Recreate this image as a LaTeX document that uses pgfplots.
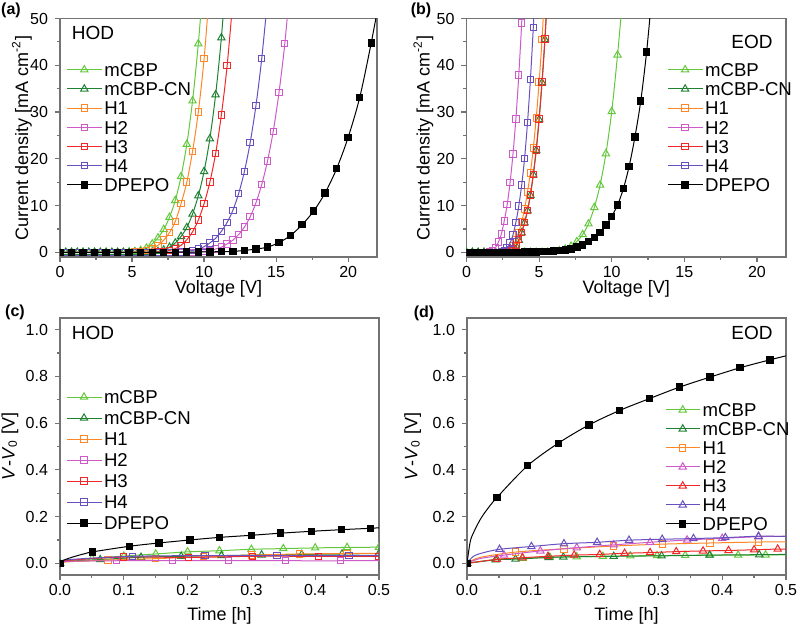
\documentclass[border=0pt]{standalone}
\usepackage{fontspec}
\setmainfont{Liberation Sans}
\usepackage{pgfplots}
\pgfplotsset{compat=1.18}
\definecolor{cA}{RGB}{100,200,60}
\definecolor{cB}{RGB}{30,130,50}
\definecolor{cC}{RGB}{255,135,40}
\definecolor{cD}{RGB}{205,90,200}
\definecolor{cE}{RGB}{240,40,40}
\definecolor{cF}{RGB}{105,80,190}
\pgfplotsset{
 base/.style={scale only axis, axis line style={black!55, line width=0.6pt},
  tick style={black!55, line width=0.6pt}, tick align=outside, tick pos=left,
  major tick length=2.5pt, minor tick length=1.5pt, minor tick num=1,
  clip marker paths=true,
  tick label style={font=\fontsize{8}{9.6}\selectfont},
  xticklabel shift=-1.5pt,
  label style={font=\fontsize{9}{10.8}\selectfont},
  /pgf/number format/assume math mode=true,
  legend cell align=left,
  legend image code/.code={\draw[##1, mark indices={2}] plot coordinates {(0cm,0cm)(0.3cm,0cm)(0.6cm,0cm)};},
  legend style={draw=none, fill=none, font=\fontsize{9.3}{11}\selectfont, anchor=north west, inner sep=0pt,
    nodes={inner ysep=0pt, inner xsep=1.2pt, text height=6.7pt, text depth=0pt}, row sep=2.9pt},
  every axis plot/.append style={line width=0.5pt},
 },
 sA/.style={color=cA, mark=triangle, mark size=2.1pt, mark options={solid}, smooth},
 sB/.style={color=cB, mark=triangle, mark size=2.1pt, mark options={solid}, smooth},
 sC/.style={color=cC, mark=square, mark size=1.6pt, mark options={solid}, smooth},
 sD/.style={color=cD, mark=square, mark size=1.6pt, mark options={solid}, smooth},
 sE/.style={color=cE, mark=square, mark size=1.6pt, mark options={solid}, smooth},
 sF/.style={color=cF, mark=square, mark size=1.6pt, mark options={solid}, smooth},
 sG/.style={color=black, mark=square*, mark size=1.6pt, mark options={solid}, smooth},
 sAt/.style={sA, mark=triangle},
 sDt/.style={sD, mark=triangle, mark size=2.1pt},
 sEt/.style={sE, mark=triangle, mark size=2.1pt},
 sFt/.style={sF, mark=triangle, mark size=2.1pt},
 jv/.style={base, width=158.5pt, height=119.25pt, xmin=0, xmax=22, ymin=-1, ymax=50,
  xtick={0,5,...,20}, ytick={0,10,...,50}, xlabel={Voltage [V]}, ylabel={Current density [mA cm\textsuperscript{-2}]},
  xlabel style={at={(axis description cs:0.5,-0.133)}, anchor=center}},
 vt/.style={base, width=159.5pt, height=128.5pt, xmin=0, xmax=0.5, ymin=-0.05, ymax=1.05,
  xtick={0,0.1,...,0.5}, ytick={0,0.2,...,1.0}, xlabel={Time [h]}, ylabel={\textit{V}-\textit{V}\textsubscript{0} [V]},
  xlabel style={at={(axis description cs:0.5,-0.16)}, anchor=center},
  xticklabel style={/pgf/number format/.cd, fixed, fixed zerofill, precision=1},
  yticklabel style={/pgf/number format/.cd, fixed, fixed zerofill, precision=1}},
}
\begin{document}
\begin{tikzpicture}
\path[use as bounding box] (0,0) rectangle (400pt,313.5pt);
% ---------------- (a) ----------------
\begin{axis}[jv, at={(30pt,185pt)}, anchor=south west,
 ylabel style={at={(axis description cs:-0.12,0.5)}, anchor=center},
 legend style={at={(rel axis cs:0.02,0.815)}}]
\addplot[sA] coordinates {(0,0)(0.4,0)(0.8,0)(1.2,0)(1.6,0)(2.0,0)(2.4,0)(2.8,0)(3.2,0)(3.6,0)(4.0,0)(4.4,0)(4.8,0.05)(5.2,0.15)(5.6,0.4)(6.0,0.9)(6.4,1.8)(6.8,3.1)(7.2,4.9)(7.6,7.5)(8.0,11.1)(8.4,16.2)(8.8,23.1)(9.2,32.4)(9.6,44.6)(10.0,60)};
\addplot[sB] coordinates {(0,0)(0.4,0)(0.8,0)(1.2,0)(1.6,0)(2.0,0)(2.4,0)(2.8,0)(3.2,0)(3.6,0)(4.0,0)(4.4,0)(4.8,0)(5.2,0)(5.6,0)(6.0,0)(6.4,0.1)(6.8,0.2)(7.2,0.5)(7.6,1.1)(8.0,2.0)(8.4,3.4)(8.8,5.3)(9.2,8.2)(9.6,12.1)(10.0,17.3)(10.4,24.3)(10.8,33.7)(11.2,45.9)(11.6,62)};
\addplot[sC] coordinates {(0,0)(0.4,0)(0.8,0)(1.2,0)(1.6,0)(2.0,0)(2.4,0)(2.8,0)(3.2,0)(3.6,0)(4.0,0)(4.4,0)(4.8,0)(5.2,0.1)(5.6,0.2)(6.0,0.4)(6.4,0.8)(6.8,1.5)(7.2,2.6)(7.6,4.2)(8.0,6.6)(8.4,10.4)(8.8,15.0)(9.2,21.6)(9.6,30.0)(10.0,41.4)(10.4,57)};
\addplot[sD] coordinates {(0,0)(0.4,0)(0.8,0)(1.2,0)(1.6,0)(2.0,0)(2.4,0)(2.8,0)(3.2,0)(3.6,0)(4.0,0)(4.4,0)(4.8,0)(5.2,0)(5.6,0)(6.0,0)(6.4,0)(6.8,0)(7.2,0)(7.6,0)(8.0,0)(8.4,0)(8.8,0)(9.2,0)(9.6,0.1)(10.0,0.2)(10.4,0.4)(10.8,0.7)(11.2,1.1)(11.6,1.8)(12.0,2.6)(12.4,3.8)(12.8,5.4)(13.2,7.6)(13.6,10.6)(14.0,14.5)(14.4,19.5)(14.8,25.9)(15.2,34.2)(15.6,44.6)(16.0,58)};
\addplot[sE] coordinates {(0,0)(0.4,0)(0.8,0)(1.2,0)(1.6,0)(2.0,0)(2.4,0)(2.8,0)(3.2,0)(3.6,0)(4.0,0)(4.4,0)(4.8,0)(5.2,0)(5.6,0)(6.0,0)(6.4,0)(6.8,0.1)(7.2,0.2)(7.6,0.4)(8.0,0.8)(8.4,1.5)(8.8,2.7)(9.2,4.4)(9.6,6.9)(10.0,10.4)(10.4,15.0)(10.8,21.1)(11.2,29.4)(11.6,39.9)(12.0,54)};
\addplot[sF] coordinates {(0,0)(0.4,0)(0.8,0)(1.2,0)(1.6,0)(2.0,0)(2.4,0)(2.8,0)(3.2,0)(3.6,0)(4.0,0)(4.4,0)(4.8,0)(5.2,0)(5.6,0)(6.0,0)(6.4,0)(6.8,0)(7.2,0)(7.6,0)(8.0,0)(8.4,0.1)(8.8,0.2)(9.2,0.4)(9.6,0.7)(10.0,1.2)(10.4,2.0)(10.8,3.0)(11.2,4.5)(11.6,6.4)(12.0,9.0)(12.4,12.6)(12.8,17.3)(13.2,23.5)(13.6,31.4)(14.0,41.4)(14.4,54)};
\addplot[sG] coordinates {(0,0)(0.8,0)(1.6,0)(2.4,0)(3.2,0)(4.0,0)(4.8,0)(5.6,0)(6.4,0)(7.2,0)(8.0,0.02)(8.8,0.05)(9.6,0.07)(10.4,0.1)(11.2,0.15)(12.0,0.2)(12.8,0.4)(13.6,0.7)(14.4,1.1)(15.2,2.1)(16.0,3.6)(16.8,5.9)(17.6,8.8)(18.4,12.7)(19.2,17.9)(20.0,24.6)(20.8,33.1)(21.6,44.8)(22.4,58)};
\legend{mCBP,mCBP-CN,H1,H2,H3,H4,DPEPO}
\node[anchor=west, font=\fontsize{9.5}{11}\selectfont] at (rel axis cs:0.015,0.94) {HOD};
\end{axis}
% ---------------- (b) ----------------
\begin{axis}[jv, at={(233.25pt,185pt)}, anchor=south west, width=159.75pt,
 ylabel style={at={(axis description cs:-0.135,0.5)}, anchor=center},
 legend style={at={(rel axis cs:0.628,0.815)}}]
\addplot[sA] coordinates {(0,0)(0.4,0)(0.8,0)(1.2,0)(1.6,0)(2.0,0)(2.4,0)(2.8,0)(3.2,0)(3.6,0)(4.0,0)(4.4,0)(4.8,0)(5.2,0)(5.6,0.05)(6.0,0.15)(6.4,0.35)(6.8,0.7)(7.2,1.3)(7.6,2.3)(8.0,3.8)(8.4,6.1)(8.8,9.6)(9.2,14.4)(9.6,21.1)(10.0,30.1)(10.4,42.2)(10.8,56)};
\addplot[sB] coordinates {(0,0)(0.4,0)(0.8,0)(1.2,0)(1.6,0)(2.0,0)(2.4,0)(2.8,0.1)(3.0,0.3)(3.2,0.7)(3.4,1.4)(3.6,2.6)(3.8,4.2)(4.0,6.3)(4.2,8.9)(4.4,12.2)(4.6,16.6)(4.8,21.8)(5.0,28.4)(5.2,36.3)(5.4,45.5)(5.6,57)};
\addplot[sC] coordinates {(0,0)(0.2,0)(0.4,0)(0.6,0)(0.8,0)(1.0,0)(1.2,0)(1.4,0)(1.6,0)(1.8,0)(2.0,0)(2.2,0)(2.4,0)(2.6,0)(2.8,0.2)(3.0,0.6)(3.2,1.4)(3.4,2.6)(3.6,4.3)(3.8,6.5)(4.0,9.3)(4.2,12.9)(4.4,17.0)(4.6,22.3)(4.8,28.7)(5.0,36.4)(5.2,45.5)(5.4,57)};
\addplot[sD] coordinates {(0,0)(0.2,0)(0.4,0)(0.6,0)(0.8,0)(1.0,0)(1.2,0)(1.4,0)(1.6,0.15)(1.8,0.4)(2.0,1.0)(2.2,2.2)(2.4,3.9)(2.6,6.7)(2.8,10.2)(3.0,14.9)(3.2,21.0)(3.4,28.5)(3.6,37.9)(3.8,49.0)(4.0,62)};
\addplot[sE] coordinates {(0,0)(0.2,0)(0.4,0)(0.6,0)(0.8,0)(1.0,0)(1.2,0)(1.4,0)(1.6,0)(1.8,0)(2.0,0)(2.2,0)(2.4,0)(2.6,0)(2.8,0.1)(3.0,0.3)(3.2,0.7)(3.4,1.5)(3.6,2.7)(3.8,4.3)(4.0,6.4)(4.2,9.0)(4.4,12.3)(4.6,16.7)(4.8,21.9)(5.0,28.5)(5.2,36.4)(5.4,45.6)(5.6,57)};
\addplot[sF] coordinates {(0,0)(0.2,0)(0.4,0)(0.6,0)(0.8,0)(1.0,0)(1.2,0)(1.4,0)(1.6,0)(1.8,0)(2.0,0)(2.2,0)(2.4,0.15)(2.6,0.4)(2.8,0.9)(3.0,2.0)(3.2,3.7)(3.4,6.4)(3.6,9.9)(3.8,14.4)(4.0,20.1)(4.2,27.7)(4.4,36.9)(4.6,48.1)(4.8,61)};
\addplot[sG] coordinates {(0,0)(0.4,0)(0.8,0)(1.2,0)(1.6,0)(2.0,0)(2.4,0)(2.8,0)(3.2,0.01)(3.6,0.02)(4.0,0.03)(4.4,0.05)(4.8,0.08)(5.2,0.12)(5.6,0.18)(6.0,0.25)(6.4,0.35)(6.8,0.5)(7.2,0.75)(7.6,1.1)(8.0,1.6)(8.4,2.3)(8.8,3.2)(9.2,4.3)(9.6,5.8)(10.0,7.7)(10.4,10.1)(10.8,13.6)(11.2,18.4)(11.6,24.7)(12.0,32.4)(12.4,42.8)(12.8,56)};
\legend{mCBP,mCBP-CN,H1,H2,H3,H4,DPEPO}
\node[anchor=east, font=\fontsize{9.5}{11}\selectfont] at (rel axis cs:0.98,0.9) {EOD};
\end{axis}
% ---------------- (c) ----------------
\begin{axis}[vt, at={(30pt,26pt)}, anchor=south west,
 ylabel style={at={(axis description cs:-0.157,0.5)}, anchor=center},
 legend style={at={(rel axis cs:0.019,0.72)}, row sep=3.8pt}]
\addplot[sA, mark indices={1,3,4,5,6,7,8,9,10,11,12}] coordinates {(0,0)(0.01,0.01)(0.05,0.02)(0.1,0.031)(0.15,0.04)(0.2,0.049)(0.25,0.054)(0.3,0.06)(0.35,0.063)(0.4,0.066)(0.45,0.068)(0.5,0.069)};
\addplot[sB, mark indices={1,3,4,5,6,7,8,9,10}] coordinates {(0,0)(0.01,0.008)(0.063,0.016)(0.127,0.026)(0.19,0.03)(0.253,0.033)(0.316,0.036)(0.379,0.038)(0.442,0.04)(0.5,0.042)};
\addplot[sC, mark indices={1,3,4,5,6,7,8}] coordinates {(0,0)(0.01,0.006)(0.075,0.014)(0.15,0.02)(0.225,0.028)(0.3,0.035)(0.375,0.04)(0.45,0.042)(0.5,0.043)};
\addplot[sD, mark indices={1,3,4,5,6,7}] coordinates {(0,0)(0.01,0.008)(0.089,0.011)(0.176,0.011)(0.264,0.011)(0.353,0.011)(0.44,0.011)(0.5,0.012)};
\addplot[sE, mark indices={1,3,4,5,6,7}] coordinates {(0,0)(0.01,0.012)(0.1,0.027)(0.201,0.025)(0.302,0.03)(0.405,0.03)(0.5,0.03)};
\addplot[sF, mark indices={1,3,4,5,6}] coordinates {(0,0)(0.01,0.015)(0.114,0.03)(0.227,0.033)(0.34,0.033)(0.453,0.033)(0.5,0.033)};
\addplot[sG, mark indices={1,7,8,9,10,11,12,13,14,15,16}] coordinates {(0,0)(0.005,0.012)(0.01,0.018)(0.02,0.027)(0.03,0.035)(0.04,0.042)(0.051,0.049)(0.109,0.073)(0.155,0.087)(0.204,0.1)(0.25,0.111)(0.3,0.12)(0.346,0.129)(0.394,0.137)(0.441,0.144)(0.487,0.15)(0.5,0.152)};
\legend{mCBP,mCBP-CN,H1,H2,H3,H4,DPEPO}
\node[anchor=west, font=\fontsize{9.5}{11}\selectfont] at (rel axis cs:0.015,0.94) {HOD};
\end{axis}
% ---------------- (d) ----------------
\begin{axis}[vt, at={(233.5pt,26pt)}, anchor=south west,
 ylabel style={at={(axis description cs:-0.17,0.5)}, anchor=center},
 legend style={at={(rel axis cs:0.62,0.67)}, row sep=2.8pt}]
\addplot[sAt, mark indices={1,2,3,4,5,6,7,8,9,10,11,12}] coordinates {(0,0)(0.045,0.016)(0.087,0.022)(0.13,0.026)(0.172,0.028)(0.213,0.03)(0.256,0.032)(0.298,0.033)(0.342,0.034)(0.381,0.035)(0.425,0.035)(0.468,0.036)(0.5,0.036)};
\addplot[sB, mark indices={1,2,3,4,5,6,7,8,9}] coordinates {(0,0)(0.045,0.015)(0.076,0.018)(0.128,0.025)(0.151,0.027)(0.23,0.03)(0.305,0.032)(0.38,0.035)(0.458,0.037)(0.5,0.038)};
\addplot[sC, mark indices={1,3,4,5,6,7,8}] coordinates {(0,0)(0.02,0.025)(0.076,0.048)(0.152,0.062)(0.23,0.074)(0.306,0.082)(0.381,0.087)(0.457,0.091)(0.5,0.092)};
\addplot[sDt, mark indices={1,3,4,5,6,7,8,9,10}] coordinates {(0,0)(0.02,0.02)(0.058,0.035)(0.115,0.053)(0.172,0.067)(0.23,0.079)(0.287,0.09)(0.345,0.1)(0.4,0.107)(0.457,0.114)(0.5,0.116)};
\addplot[sEt, mark indices={1,2,3,4,5,6,7,8,9,10,11,12,13}] coordinates {(0,0)(0.047,0.017)(0.087,0.024)(0.127,0.03)(0.168,0.035)(0.208,0.038)(0.247,0.043)(0.287,0.046)(0.328,0.05)(0.37,0.053)(0.41,0.055)(0.45,0.058)(0.487,0.061)(0.5,0.061)};
\addplot[sFt, mark indices={1,4,5,6,7,8,9,10,11,12}] coordinates {(0,0)(0.01,0.03)(0.025,0.045)(0.051,0.06)(0.101,0.072)(0.152,0.084)(0.204,0.09)(0.254,0.099)(0.306,0.103)(0.355,0.106)(0.405,0.11)(0.457,0.116)(0.5,0.115)};
\addplot[sG, mark indices={1,6,7,8,9,10,11,12,13,14,15}] coordinates {(0,0)(0.005,0.092)(0.01,0.13)(0.02,0.184)(0.03,0.225)(0.047,0.282)(0.095,0.418)(0.143,0.514)(0.191,0.592)(0.239,0.654)(0.286,0.705)(0.333,0.754)(0.381,0.797)(0.428,0.837)(0.475,0.871)(0.5,0.888)};
\legend{mCBP,mCBP-CN,H1,H2,H3,H4,DPEPO}
\node[anchor=east, font=\fontsize{9.5}{11}\selectfont] at (rel axis cs:0.98,0.94) {EOD};
\end{axis}
% panel labels
\node[font=\bfseries\fontsize{8}{9.6}\selectfont] at (5.5pt,308.5pt) {(a)};
\node[font=\bfseries\fontsize{8}{9.6}\selectfont] at (210.5pt,308.5pt) {(b)};
\node[font=\bfseries\fontsize{8}{9.6}\selectfont] at (7.5pt,157.5pt) {(c)};
\node[font=\bfseries\fontsize{8}{9.6}\selectfont] at (212pt,157pt) {(d)};
\end{tikzpicture}
\end{document}
